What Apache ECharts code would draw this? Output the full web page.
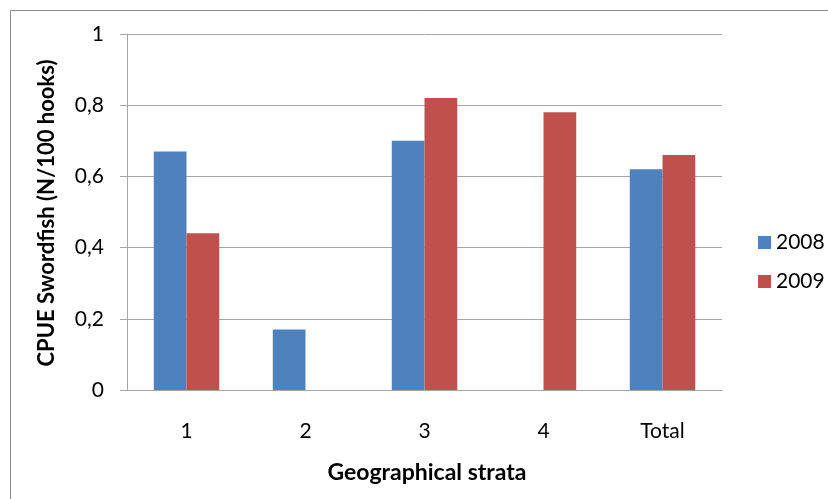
<!DOCTYPE html>
<html>
<head>
<meta charset="utf-8">
<script src="https://cdn.jsdelivr.net/npm/echarts@6/dist/echarts.min.js"></script>
<style>
html,body{margin:0;padding:0;background:#fff;}
#chart{width:828px;height:499px;}
</style>
</head>
<body>
<div id="chart"></div>
<script>
// Swordfish CPUE by geographical stratum, 2008 vs 2009
const categories = ['1', '2', '3', '4', 'Total'];
const seriesNames = ['2008', '2009'];
const cpue2008 = [0.67, 0.17, 0.70, null, 0.62];
const cpue2009 = [0.44, null, 0.82, 0.78, 0.66];
const yTicks = [0, 0.2, 0.4, 0.6, 0.8, 1];

const FONT = 'Lato, "Liberation Sans", sans-serif';
const chart = echarts.init(document.getElementById('chart'), null, { renderer: 'canvas' });

chart.setOption({
  animation: false,
  backgroundColor: '#fff',
  grid: { left: 127, right: 106, top: 34, bottom: 109, containLabel: false },
  legend: {
    data: seriesNames,
    orient: 'vertical',
    left: 753, top: 227,
    itemWidth: 13, itemHeight: 13, itemGap: 18,
    icon: 'rect',
    textStyle: { fontFamily: FONT, fontSize: 21, lineHeight: 21, color: '#000' }
  },
  xAxis: {
    type: 'category',
    data: categories,
    axisLine: { lineStyle: { color: '#A6A6A6', width: 1 } },
    axisTick: { show: false },
    axisLabel: { fontFamily: FONT, fontSize: 21, color: '#000', margin: 31 }
  },
  yAxis: {
    type: 'value',
    min: yTicks[0], max: yTicks[yTicks.length - 1], interval: 0.2,
    axisLine: { show: true, lineStyle: { color: '#A6A6A6' } },
    axisTick: { show: true, length: 7, lineStyle: { color: '#A6A6A6' } },
    splitLine: { lineStyle: { color: '#A6A6A6', width: 1 } },
    axisLabel: {
      fontFamily: FONT, fontSize: 21, color: '#000', margin: 23,
      formatter: v => String(Math.round(v * 10) / 10).replace('.', ',')
    }
  },
  series: [
    {
      name: seriesNames[0], type: 'bar', data: cpue2008,
      itemStyle: { color: '#4F81BD' },
      barGap: '0%', barCategoryGap: '45%'
    },
    {
      name: seriesNames[1], type: 'bar', data: cpue2009,
      itemStyle: { color: '#C0504D' },
      barGap: '0%', barCategoryGap: '45%'
    }
  ],
  graphic: [
    {
      type: 'rect', silent: true, z: -1,
      shape: { x: 10.5, y: 10.5, width: 840, height: 520 },
      style: { fill: 'none', stroke: '#8C8C8C', lineWidth: 1 }
    },
    {
      type: 'text', silent: true,
      x: 47, y: 213, rotation: Math.PI / 2,
      style: {
        text: 'CPUE Swordfish (N/100 hooks)',
        fontFamily: FONT, fontSize: 22, fontWeight: 'bold', fill: '#000',
        align: 'center', verticalAlign: 'middle'
      }
    },
    {
      type: 'text', silent: true,
      x: 427, y: 473,
      style: {
        text: 'Geographical strata',
        fontFamily: FONT, fontSize: 23, fontWeight: 'bold', fill: '#000',
        align: 'center', verticalAlign: 'middle'
      }
    }
  ]
});
</script>
</body>
</html>
